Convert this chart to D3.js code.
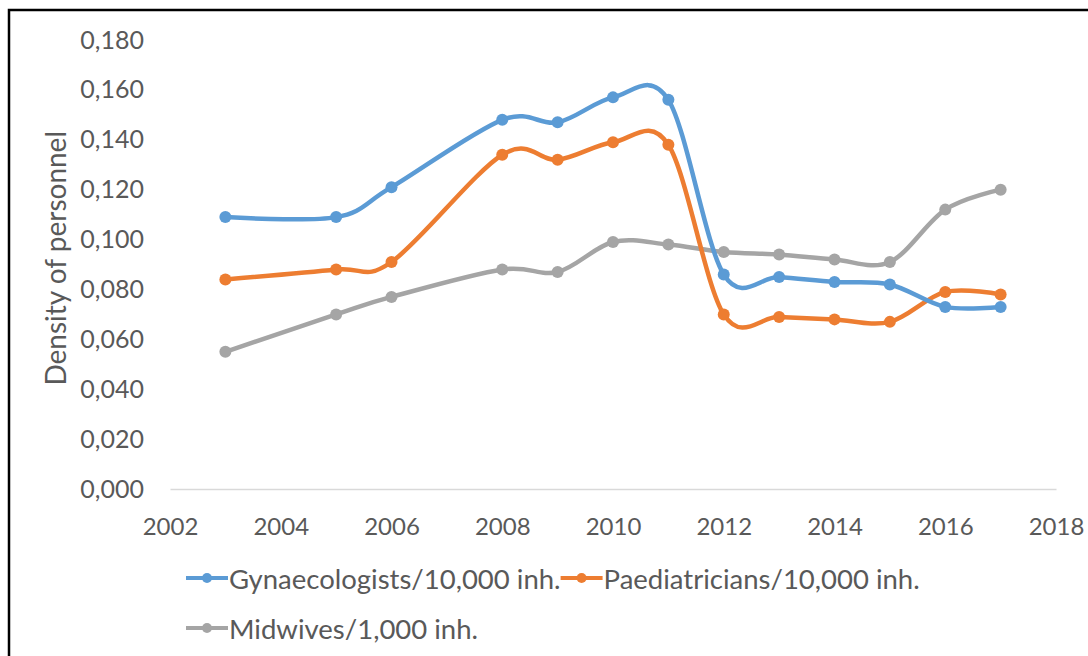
<!DOCTYPE html>
<html>
<head>
<meta charset="utf-8">
<script src="https://cdn.jsdelivr.net/npm/d3@7"></script>
<style>
  body { margin: 0; background: #fff; }
  text { font-family: Lato, "Liberation Sans", sans-serif; fill: #595959; }
</style>
</head>
<body>
<div id="chart"></div>
<script>
// data
const years = [2003, 2005, 2006, 2008, 2009, 2010, 2011, 2012, 2013, 2014, 2015, 2016, 2017];
const gynaecologists = [0.109, 0.109, 0.121, 0.148, 0.147, 0.157, 0.156, 0.086, 0.085, 0.083, 0.082, 0.073, 0.073];
const paediatricians = [0.084, 0.088, 0.091, 0.134, 0.132, 0.139, 0.138, 0.070, 0.069, 0.068, 0.067, 0.079, 0.078];
const midwives = [0.055, 0.070, 0.077, 0.088, 0.087, 0.099, 0.098, 0.095, 0.094, 0.092, 0.091, 0.112, 0.120];
const seriesNames = ["Gynaecologists/10,000 inh.", "Paediatricians/10,000 inh.", "Midwives/1,000 inh."];
const seriesColors = ["#5b9bd5", "#ed7d31", "#a5a5a5"];
const xTicks = [2002, 2004, 2006, 2008, 2010, 2012, 2014, 2016, 2018];
const yTicks = [0, 0.02, 0.04, 0.06, 0.08, 0.10, 0.12, 0.14, 0.16, 0.18];

const width = 1088, height = 656;
const margin = { top: 40, right: 32, bottom: 167, left: 170 };

const svg = d3.select("#chart").append("svg")
    .attr("width", width)
    .attr("height", height);

// frame of the original screenshot
svg.append("rect")
    .attr("x", 9).attr("y", 10)
    .attr("width", width + 20).attr("height", height + 20)
    .attr("fill", "none")
    .attr("stroke", "#000")
    .attr("stroke-width", 2.5);

const x = d3.scaleLinear()
    .domain([2002, 2018])
    .range([margin.left, width - margin.right]);

const y = d3.scaleLinear()
    .domain([0, 0.18])
    .range([height - margin.bottom, margin.top]);

const locale = d3.formatLocale({ decimal: ",", thousands: ".", grouping: [3], currency: ["", ""] });
const fmt = locale.format(".3f");

// x axis
const xAxis = svg.append("g")
    .attr("transform", `translate(0,${y(0)})`)
    .call(d3.axisBottom(x).tickValues(xTicks).tickFormat(d3.format("d")).tickSize(0).tickPadding(29));
xAxis.select(".domain").attr("stroke", "#d9d9d9").attr("stroke-width", 1.5);
xAxis.selectAll("text").attr("font-size", 24).style("fill", "#595959").attr("font-family", null);

// y axis (labels only)
const yAxis = svg.append("g")
    .attr("transform", `translate(${margin.left - 26},0)`)
    .call(d3.axisLeft(y).tickValues(yTicks).tickFormat(fmt).tickSize(0).tickPadding(0));
yAxis.select(".domain").remove();
yAxis.selectAll("text").attr("font-size", 25).style("fill", "#595959").attr("font-family", null);

svg.append("text")
    .attr("transform", `translate(55,${(y(0.04) + y(0.145)) / 2}) rotate(-90)`)
    .attr("text-anchor", "middle")
    .attr("dominant-baseline", "central")
    .attr("font-size", 28)
    .text("Density of personnel");

const allSeries = [gynaecologists, paediatricians, midwives];

const line = d3.line()
    .x((d, i) => x(years[i]))
    .y(d => y(d))
    .curve(d3.curveCardinal.tension(0));

// draw grey first so the others sit on top, like the original
[2, 1, 0].forEach(s => {
    const g = svg.append("g");
    g.append("path")
        .datum(allSeries[s])
        .attr("fill", "none")
        .attr("stroke", seriesColors[s])
        .attr("stroke-width", 4.5)
        .attr("stroke-linecap", "round")
        .attr("d", line);
    g.selectAll("circle")
        .data(allSeries[s])
        .enter().append("circle")
        .attr("cx", (d, i) => x(years[i]))
        .attr("cy", d => y(d))
        .attr("r", 6)
        .attr("fill", seriesColors[s]);
});

// legend
const legendRows = [[0, 1], [2]];
const rowY = [578, 628];
legendRows.forEach((row, r) => {
    let lx = 186;
    row.forEach(s => {
        const item = svg.append("g").attr("transform", `translate(${lx},${rowY[r]})`);
        item.append("line")
            .attr("x1", 0).attr("x2", 42)
            .attr("stroke", seriesColors[s]).attr("stroke-width", 4);
        item.append("circle")
            .attr("cx", 21).attr("r", 5)
            .attr("fill", seriesColors[s]);
        const t = item.append("text")
            .attr("x", 43)
            .attr("dominant-baseline", "central")
            .attr("font-size", 27.5)
            .text(seriesNames[s]);
        lx += 43 + t.node().getComputedTextLength();
    });
});
</script>
</body>
</html>
